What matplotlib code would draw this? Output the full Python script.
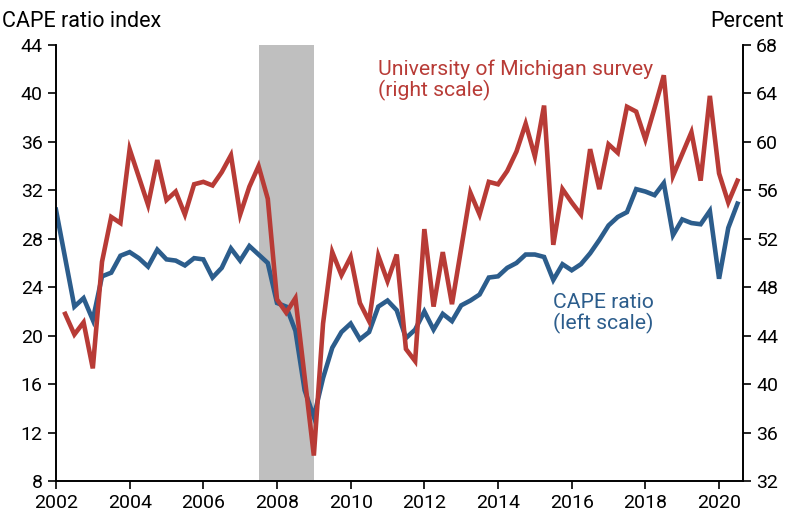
import numpy as np
import matplotlib.pyplot as plt

plt.rcParams['font.family'] = ['Roboto', 'DejaVu Sans']

# quarterly, 2002 Q1 .. 2020 Q3
cape = [30.4, 26.4, 22.4, 23.1, 21.3, 24.9, 25.2, 26.6, 26.9, 26.4,
        25.7, 27.1, 26.3, 26.2, 25.8, 26.4, 26.3, 24.8, 25.6, 27.2,
        26.2, 27.4, 26.7, 26.0, 22.7, 22.4, 20.4, 15.5, 13.3, 16.5,
        19.0, 20.3, 21.0, 19.7, 20.3, 22.4, 22.9, 22.1, 19.8, 20.5,
        22.0, 20.5, 21.8, 21.2, 22.5, 22.9, 23.4, 24.8, 24.9, 25.6,
        26.0, 26.7, 26.7, 26.5, 24.6, 25.9, 25.4, 25.9, 26.8, 27.9,
        29.1, 29.8, 30.2, 32.1, 31.9, 31.6, 32.6, 28.3, 29.6, 29.3,
        29.2, 30.3, 24.7, 28.9, 30.9]

# University of Michigan survey, starts 2002 Q2
umich = [np.nan, 45.8, 44.1, 45.1, 41.3, 50.1, 53.8, 53.3, 59.4, 57.1,
         54.8, 58.5, 55.2, 55.9, 54.0, 56.5, 56.7, 56.4, 57.5, 58.9,
         54.0, 56.3, 58.0, 55.3, 47.0, 45.9, 47.1, 40.6, 34.1, 45.0,
         50.9, 49.0, 50.5, 46.7, 45.2, 50.6, 48.5, 50.7, 42.9, 41.9,
         52.8, 46.4, 50.9, 46.6, 51.2, 55.8, 54.0, 56.7, 56.5, 57.6,
         59.2, 61.5, 58.8, 63.0, 51.5, 56.1, 55.0, 54.0, 59.4, 56.1,
         59.8, 59.1, 62.9, 62.5, 60.2, 62.8, 65.5, 57.2, 59.0, 60.8,
         56.8, 63.8, 57.4, 55.0, 56.8]

dates = 2002 + 0.25 * np.arange(len(cape))

recession = (2007.5, 2009.0)

blue = '#2c5d8c'
red = '#b83b36'

fig = plt.figure(figsize=(7.86, 5.16), dpi=100)
ax1 = fig.add_axes([0.0712, 0.0678, 0.8741, 0.845])
ax2 = ax1.twinx()

ax1.axvspan(recession[0], recession[1], color='#bfbfbf', lw=0, zorder=0)
ax1.plot(dates, cape, color=blue, lw=3.3, solid_joinstyle='miter')
ax2.plot(dates, umich, color=red, lw=3.3, solid_joinstyle='miter')

ax1.set_xlim(2002, 2020.65)
ax1.set_ylim(8, 44)
ax2.set_ylim(32, 68)
ax1.set_xticks(range(2002, 2021, 2))
ax1.set_yticks(range(8, 45, 4))
ax2.set_yticks(range(32, 69, 4))

for ax in (ax1, ax2):
    ax.spines['top'].set_visible(False)
    for s in ('left', 'right', 'bottom'):
        ax.spines[s].set_linewidth(1.2)
    ax.tick_params(direction='out', length=6, width=1.2, labelsize=14)

fig.text(0.003, 0.958, 'CAPE ratio index', fontsize=15.5, ha='left', va='center')
fig.text(0.997, 0.958, 'Percent', fontsize=15.5, ha='right', va='center')

ax1.text(2010.75, 42.8, 'University of Michigan survey\n(right scale)',
         color=red, fontsize=15.2, ha='left', va='top', linespacing=1.05)
ax1.text(2015.5, 23.5, 'CAPE ratio\n(left scale)',
         color=blue, fontsize=15.2, ha='left', va='top', linespacing=1.05)

plt.savefig('out.png', dpi=100)
